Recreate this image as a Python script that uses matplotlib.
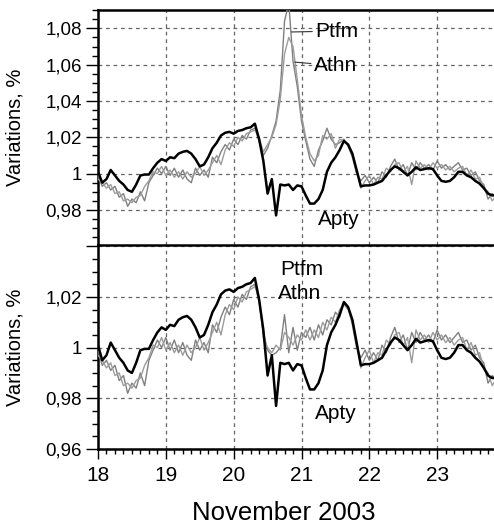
import numpy as np
import matplotlib
matplotlib.use("Agg")
import matplotlib.pyplot as plt
from matplotlib.ticker import MultipleLocator, FuncFormatter

plt.rcParams['font.family'] = ['Liberation Sans', 'DejaVu Sans']

# normalised variations, sampled every 1.5 h from 18 Nov 2003 00:00
apty = [1.001, 0.995, 0.997, 1.002, 0.999, 0.996, 0.994, 0.991, 0.990, 0.994,
        0.999, 0.9995, 0.9995, 1.003, 1.006, 1.008, 1.007, 1.009, 1.0085, 1.011,
        1.012, 1.0125, 1.011, 1.008, 1.004, 1.005, 1.009, 1.014, 1.017, 1.021,
        1.0225, 1.023, 1.022, 1.0235, 1.024, 1.025, 1.0255, 1.0275, 1.019, 1.007,
        0.989, 0.997, 0.977, 0.994, 0.9935, 0.994, 0.991, 0.9935, 0.993, 0.988,
        0.9835, 0.9835, 0.986, 0.991, 1.001, 1.006, 1.009, 1.013, 1.018, 1.016,
        1.011, 1.002, 0.993, 0.9935, 0.9935, 0.994, 0.995, 0.996, 0.999, 1.002,
        1.004, 1.003, 1.001, 0.999, 1.001, 1.0035, 1.002, 1.0025, 1.003, 1.0025,
        0.999, 0.996, 0.9955, 0.996, 0.998, 1.001, 1.001, 0.999, 0.998, 0.996,
        0.9945, 0.992, 0.989, 0.988, 0.988]

ptfm = [0.999, 0.993, 0.995, 0.991, 0.993, 0.987, 0.989, 0.982, 0.986, 0.984,
        0.990, 0.985, 0.995, 0.999, 1.003, 1.000, 1.004, 0.999, 1.003, 0.998,
        1.002, 0.997, 0.995, 1.003, 0.999, 1.002, 0.998, 1.009, 1.006, 1.012,
        1.016, 1.013, 1.019, 1.016, 1.021, 1.019, 1.024, 1.025, 1.018, 1.010,
        1.014, 1.021, 1.029, 1.046, 1.084, 1.094, 1.062, 1.048, 1.029, 1.018,
        1.008, 1.004, 1.013, 1.018, 1.025, 1.019, 1.016, 1.017, 1.019, 1.015,
        1.009, 1.000, 0.996, 0.999, 0.995, 0.998, 0.995, 1.001, 0.998, 1.004,
        1.008, 1.002, 1.005, 0.999, 1.006, 1.002, 1.006, 1.003, 1.005, 1.002,
        1.007, 1.003, 1.005, 1.002, 1.004, 1.006, 1.002, 1.003, 0.999, 1.001,
        0.996, 0.994, 0.986, 0.989, 0.987]

athn = [0.997, 0.995, 0.992, 0.994, 0.989, 0.990, 0.985, 0.986, 0.984, 0.987,
        0.988, 0.993, 0.996, 1.001, 1.000, 1.004, 0.999, 1.002, 0.998, 1.001,
        0.997, 1.001, 0.998, 1.000, 1.004, 0.999, 1.002, 1.006, 1.010, 1.005,
        1.013, 1.017, 1.015, 1.020, 1.018, 1.022, 1.023, 1.024, 1.020, 1.012,
        1.016, 1.020, 1.027, 1.041, 1.066, 1.075, 1.070, 1.052, 1.032, 1.020,
        1.011, 1.007, 1.010, 1.021, 1.019, 1.022, 1.014, 1.019, 1.018, 1.016,
        1.010, 1.002, 0.992, 0.996, 0.999, 0.994, 0.998, 0.997, 1.003, 1.001,
        1.005, 1.006, 1.001, 1.004, 0.994, 1.007, 1.003, 1.005, 1.002, 1.006,
        1.003, 1.005, 1.002, 1.004, 1.001, 1.003, 1.004, 0.999, 1.002, 0.997,
        0.998, 0.992, 0.990, 0.985, 0.988]

# corrected values for 20.44-21.69 Nov (samples 39..59)
fix_start = 39
ptfm_fix = [1.006, 0.999, 0.997, 0.998, 1.000, 1.013, 0.998, 1.008, 0.999, 1.006,
            1.004, 1.008, 1.003, 1.009, 1.005, 1.011, 1.009, 1.014, 1.012, 1.018,
            1.016]
athn_fix = [1.004, 1.000, 0.998, 1.001, 0.999, 1.006, 1.004, 1.001, 1.005, 1.003,
            1.007, 1.003, 1.007, 1.004, 1.010, 1.007, 1.012, 1.010, 1.015, 1.017,
            1.015]

t = 18 + np.arange(len(apty)) / 16.0

ptfm_c = list(ptfm)
athn_c = list(athn)
ptfm_c[fix_start:fix_start + len(ptfm_fix)] = ptfm_fix
athn_c[fix_start:fix_start + len(athn_fix)] = athn_fix

W, H = 494, 529
fig = plt.figure(figsize=(W / 100, H / 100), dpi=100)
left = 98 / W
width = 407 / W
ax1 = fig.add_axes([left, (H - 245) / H, width, 235 / H])
ax2 = fig.add_axes([left, (H - 449) / H, width, 204 / H])


def fmt(v, pos):
    if abs(v - 1) < 1e-9:
        return "1"
    return ("%.2f" % v).replace(".", ",")


for ax, p, a in ((ax1, ptfm, athn), (ax2, ptfm_c, athn_c)):
    ax.plot(t, p, color="#808080", lw=1.0, zorder=3)
    ax.plot(t, a, color="#9c9c9c", lw=1.0, zorder=3)
    ax.plot(t, apty, color="black", lw=1.8, zorder=4)
    ax.set_xlim(18, 24)
    ax.xaxis.set_major_locator(MultipleLocator(1))
    ax.xaxis.set_minor_locator(MultipleLocator(0.125))
    ax.yaxis.set_major_locator(MultipleLocator(0.02))
    ax.yaxis.set_minor_locator(MultipleLocator(0.005))
    ax.yaxis.set_major_formatter(FuncFormatter(fmt))
    ax.grid(True, which="major", color="#666666", lw=0.9, ls=(0, (3, 3)))
    ax.tick_params(axis="y", which="major", direction="out", length=8.5, width=1,
                   labelsize=13.5, pad=3)
    ax.tick_params(axis="y", which="minor", direction="out", length=4.5, width=1)
    ax.spines["left"].set_linewidth(1.8)
    ax.spines["right"].set_visible(False)
    ax.set_ylabel("Variations, %", fontsize=14.5)
    ax.yaxis.set_label_coords(-0.18, 0.5)

ax1.set_ylim(0.9607, 1.0901)
ax1.spines["top"].set_linewidth(1.8)
ax1.spines["bottom"].set_visible(False)
ax1.tick_params(axis="x", which="both", bottom=False, labelbottom=False)

ax2.set_ylim(0.96, 1.0405)
ax2.spines["top"].set_linewidth(1.8)
ax2.spines["bottom"].set_linewidth(1.8)
ax2.tick_params(axis="x", which="major", direction="out", length=7, width=1,
                labelsize=15, pad=5)
ax2.tick_params(axis="x", which="minor", direction="out", length=3.5, width=1)
ax2.yaxis.set_major_formatter(FuncFormatter(lambda v, pos: "" if v > 1.03 else fmt(v, pos)))

# series labels
lead = dict(arrowstyle="-", color="#333333", lw=0.8, shrinkA=0, shrinkB=0)
ax1.annotate("Ptfm", xy=(20.85, 1.078), xytext=(21.2, 1.0785), fontsize=15,
             va="center", ha="left", arrowprops=lead)
ax1.annotate("Athn", xy=(20.90, 1.0614), xytext=(21.18, 1.0595), fontsize=15,
             va="center", ha="left", arrowprops=lead)
ax1.text(21.24, 0.975, "Apty", fontsize=15, va="center", ha="left")

ax2.text(20.68, 1.031, "Ptfm", fontsize=15, va="center", ha="left")
ax2.text(20.65, 1.0215, "Athn", fontsize=15, va="center", ha="left")
ax2.text(21.2, 0.9741, "Apty", fontsize=15, va="center", ha="left")

fig.text(283.5 / W, 1 - 512.5 / H, "November 2003", fontsize=18.5,
         ha="center", va="center")

fig.savefig("out.png", dpi=100)
